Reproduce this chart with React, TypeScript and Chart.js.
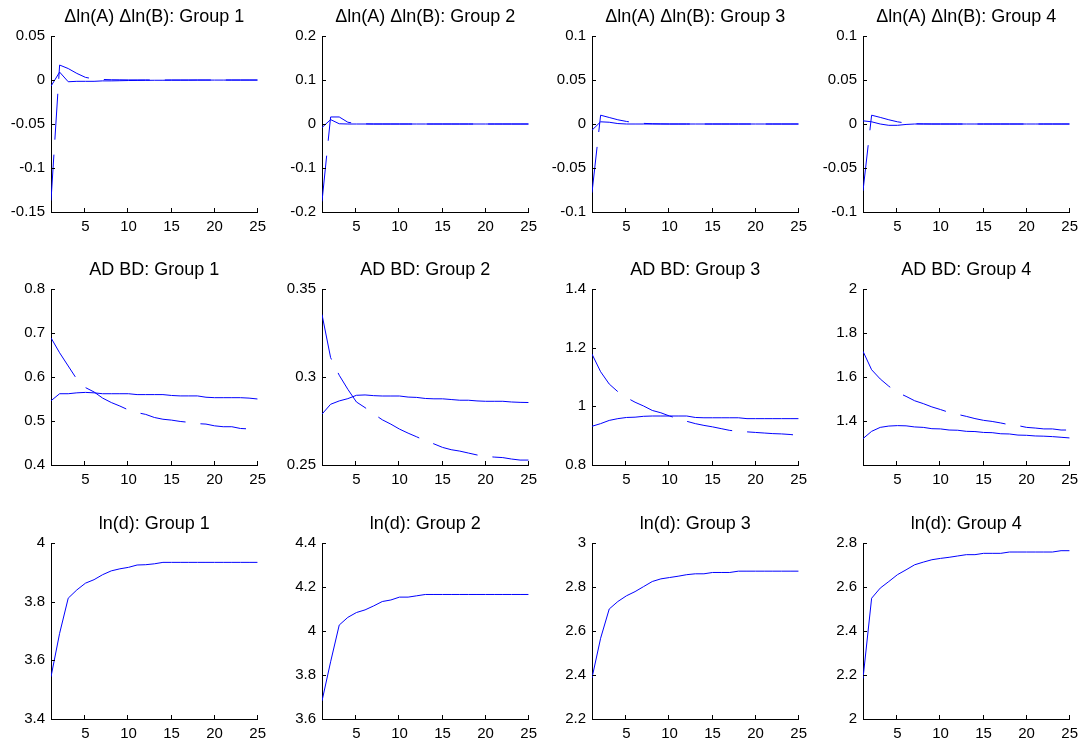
import React, { useEffect, useRef } from "react";
import { Chart, registerables } from "chart.js";

Chart.register(...registerables);

// ---------- data ----------
const periods = [1, 2, 3, 4, 5, 6, 7, 8, 9, 10, 11, 12, 13, 14, 15, 16, 17, 18, 19, 20, 21, 22, 23, 24, 25];
const xTickValues = [5, 10, 15, 20, 25];

const groups = ["Group 1", "Group 2", "Group 3", "Group 4"];
const rowTitles = ["Δln(A) Δln(B)", "AD BD", "ln(d)"];

// Row 1: Δln(A) Δln(B)
const dlnG1Solid = [-0.007, 0.009, -0.002, -0.0015, -0.0015, -0.0015, -0.001, -0.001, -0.0008, -0.0006, -0.0005, -0.0004, -0.0003, -0.0003, -0.0002, -0.0002, -0.0002, -0.0001, -0.0001, -0.0001, -0.0001, -0.0001, -0.0001, -0.0001, -0.0001];
const dlnG1Dashed = [-0.137, 0.017, 0.013, 0.0075, 0.003, 0.0012, 0.0006, 0.0003, 0.0002, 0.0001, 0.0001, 0.0001, 0, 0, 0, 0, 0, 0, 0, 0, 0, 0, 0, 0, 0];
const dlnG2Solid = [-0.008, 0.010, 0.0005, 0, 0, 0, 0, 0, 0, 0, 0, 0, 0, 0, 0, 0, 0, 0, 0, 0, 0, 0, 0, 0, 0];
const dlnG2Dashed = [-0.176, 0.016, 0.016, 0.004, 0.001, 0.0003, 0, 0, 0, 0, 0, 0, 0, 0, 0, 0, 0, 0, 0, 0, 0, 0, 0, 0, 0];
const dlnG3Solid = [-0.007, 0.0025, 0.002, 0.0005, 0, 0, 0, 0, 0, 0, 0, 0, 0, 0, 0, 0, 0, 0, 0, 0, 0, 0, 0, 0, 0];
const dlnG3Dashed = [-0.078, 0.010, 0.0074, 0.0048, 0.0029, 0.0015, 0.0007, 0.0003, 0.0001, 0, 0, 0, 0, 0, 0, 0, 0, 0, 0, 0, 0, 0, 0, 0, 0];
const dlnG4Solid = [0.0036, 0.0025, 0.0, -0.0015, -0.0015, -0.0005, 0, 0, 0, 0, 0, 0, 0, 0, 0, 0, 0, 0, 0, 0, 0, 0, 0, 0, 0];
const dlnG4Dashed = [-0.076, 0.010, 0.0075, 0.0048, 0.0025, 0.001, 0.0003, 0.0001, 0, 0, 0, 0, 0, 0, 0, 0, 0, 0, 0, 0, 0, 0, 0, 0, 0];

// Row 2: AD BD
const adbdG1Solid = [0.546, 0.562, 0.562, 0.564, 0.565, 0.564, 0.562, 0.562, 0.562, 0.562, 0.560, 0.560, 0.560, 0.560, 0.558, 0.557, 0.557, 0.557, 0.554, 0.553, 0.553, 0.553, 0.553, 0.552, 0.550];
const adbdG1Dashed = [0.689, 0.655, 0.625, 0.595, 0.576, 0.566, 0.552, 0.542, 0.534, 0.525, 0.519, 0.515, 0.508, 0.504, 0.502, 0.499, 0.497, 0.494, 0.493, 0.489, 0.487, 0.487, 0.483, 0.482, 0.480];
const adbdG2Solid = [0.2789, 0.2845, 0.2864, 0.2877, 0.2896, 0.2898, 0.2894, 0.2892, 0.2892, 0.2892, 0.2886, 0.2884, 0.2878, 0.2876, 0.2876, 0.2872, 0.2868, 0.2868, 0.2864, 0.2862, 0.2862, 0.2862, 0.2858, 0.2856, 0.2855];
const adbdG2Dashed = [0.3355, 0.311, 0.301, 0.293, 0.2858, 0.2826, 0.279, 0.2757, 0.2732, 0.2704, 0.2681, 0.266, 0.2638, 0.262, 0.26, 0.2587, 0.2579, 0.2568, 0.2557, 0.2549, 0.2545, 0.2542, 0.2534, 0.2528, 0.2528];
const adbdG3Solid = [0.932, 0.941, 0.952, 0.958, 0.962, 0.963, 0.966, 0.967, 0.967, 0.967, 0.967, 0.967, 0.962, 0.961, 0.961, 0.961, 0.961, 0.961, 0.958, 0.958, 0.958, 0.958, 0.958, 0.958, 0.958];
const adbdG3Dashed = [1.178, 1.118, 1.076, 1.05, 1.03, 1.014, 1.001, 0.986, 0.978, 0.967, 0.958, 0.949, 0.941, 0.935, 0.930, 0.924, 0.918, 0.915, 0.913, 0.911, 0.909, 0.907, 0.906, 0.904, 0.901];
const adbdG4Solid = [1.320, 1.353, 1.371, 1.377, 1.379, 1.378, 1.373, 1.371, 1.365, 1.364, 1.359, 1.358, 1.353, 1.352, 1.348, 1.347, 1.342, 1.341, 1.336, 1.335, 1.332, 1.331, 1.329, 1.326, 1.323];
const adbdG4Dashed = [1.717, 1.633, 1.591, 1.558, 1.530, 1.512, 1.492, 1.479, 1.464, 1.452, 1.439, 1.430, 1.421, 1.411, 1.403, 1.398, 1.391, 1.383, 1.379, 1.371, 1.368, 1.364, 1.364, 1.359, 1.359];

// Row 3: ln(d)
const lndG1 = [3.544, 3.692, 3.812, 3.840, 3.863, 3.875, 3.892, 3.905, 3.912, 3.917, 3.925, 3.926, 3.929, 3.934, 3.934, 3.934, 3.934, 3.934, 3.934, 3.934, 3.934, 3.934, 3.934, 3.934, 3.934];
const lndG2 = [3.682, 3.860, 4.027, 4.062, 4.084, 4.096, 4.114, 4.134, 4.141, 4.154, 4.154, 4.160, 4.166, 4.166, 4.166, 4.166, 4.166, 4.166, 4.166, 4.166, 4.166, 4.166, 4.166, 4.166, 4.166];
const lndG3 = [2.387, 2.567, 2.700, 2.734, 2.760, 2.779, 2.802, 2.825, 2.837, 2.843, 2.849, 2.856, 2.860, 2.860, 2.866, 2.866, 2.866, 2.872, 2.872, 2.872, 2.872, 2.872, 2.872, 2.872, 2.872];
const lndG4 = [2.184, 2.549, 2.595, 2.625, 2.656, 2.678, 2.701, 2.713, 2.724, 2.730, 2.735, 2.741, 2.747, 2.747, 2.753, 2.753, 2.753, 2.759, 2.759, 2.759, 2.759, 2.759, 2.759, 2.765, 2.765];

// y ranges and tick labels
const yRange = [
  [[-0.15, 0.05], [-0.2, 0.2], [-0.1, 0.1], [-0.1, 0.1]],
  [[0.4, 0.8], [0.25, 0.35], [0.8, 1.4], [1.2, 2]],
  [[3.4, 4], [3.6, 4.4], [2.2, 3], [2, 2.8]],
];
const yTicks = [
  [[-0.15, -0.1, -0.05, 0, 0.05], [-0.2, -0.1, 0, 0.1, 0.2], [-0.1, -0.05, 0, 0.05, 0.1], [-0.1, -0.05, 0, 0.05, 0.1]],
  [[0.4, 0.5, 0.6, 0.7, 0.8], [0.25, 0.3, 0.35], [0.8, 1, 1.2, 1.4], [1.4, 1.6, 1.8, 2]],
  [[3.4, 3.6, 3.8, 4], [3.6, 3.8, 4, 4.2, 4.4], [2.2, 2.4, 2.6, 2.8, 3], [2, 2.2, 2.4, 2.6, 2.8]],
];
const solidSeries = [
  [dlnG1Solid, dlnG2Solid, dlnG3Solid, dlnG4Solid],
  [adbdG1Solid, adbdG2Solid, adbdG3Solid, adbdG4Solid],
  [lndG1, lndG2, lndG3, lndG4],
];
const dashedSeries = [
  [dlnG1Dashed, dlnG2Dashed, dlnG3Dashed, dlnG4Dashed],
  [adbdG1Dashed, adbdG2Dashed, adbdG3Dashed, adbdG4Dashed],
  [null, null, null, null],
];

// ---------- layout ----------
const PLOT_LEFTS = [51, 322, 592, 863];
const PLOT_TOPS = [36, 289, 543];
const Y_AXIS_W = 50;
const TOP_SPACE = 34;
const X_AXIS_H = 28;
const PLOT_W = 207;
const PLOT_H = 176;
const RIGHT_PAD = 14;
const CANVAS_W = Y_AXIS_W + PLOT_W + RIGHT_PAD;
const CANVAS_H = TOP_SPACE + PLOT_H + X_AXIS_H;

const FONT = "'Liberation Sans', Arial, Helvetica, sans-serif";
const BLUE = "#0000ff";

const inwardTicks = {
  id: "inwardTicks",
  afterDatasetsDraw(chart: any) {
    const { ctx, chartArea, scales } = chart;
    ctx.save();
    ctx.strokeStyle = "#000";
    ctx.lineWidth = 1;
    ctx.beginPath();
    scales.x.ticks.forEach((t: any) => {
      const px = Math.round(scales.x.getPixelForValue(t.value)) - 0.5;
      ctx.moveTo(px, chartArea.bottom);
      ctx.lineTo(px, chartArea.bottom - 4);
    });
    scales.y.ticks.forEach((t: any) => {
      const py = Math.round(scales.y.getPixelForValue(t.value)) + 0.5;
      ctx.moveTo(chartArea.left, py);
      ctx.lineTo(chartArea.left + 4, py);
    });
    ctx.stroke();
    ctx.restore();
  },
};

function Panel({ row, col }: { row: number; col: number }) {
  const ref = useRef<HTMLCanvasElement>(null);
  useEffect(() => {
    const toPts = (arr: number[]) => periods.map((p, i) => ({ x: p, y: arr[i] }));
    const datasets: any[] = [
      {
        data: toPts(solidSeries[row][col]),
        borderColor: BLUE,
        borderWidth: 1,
        pointRadius: 0,
        tension: 0,
        fill: false,
      },
    ];
    const dashed = dashedSeries[row][col];
    if (dashed) {
      datasets.push({
        data: toPts(dashed),
        borderColor: BLUE,
        borderWidth: 1,
        borderDash: [46, 15],
        pointRadius: 0,
        tension: 0,
        fill: false,
      });
    }
    const [yMin, yMax] = yRange[row][col];
    const ticksY = yTicks[row][col];
    const chart = new Chart(ref.current as HTMLCanvasElement, {
      type: "line",
      data: { datasets },
      plugins: [inwardTicks],
      options: {
        animation: false,
        responsive: false,
        devicePixelRatio: 1,
        events: [],
        layout: { padding: { top: 4, right: RIGHT_PAD, left: 0, bottom: 0 } },
        plugins: {
          legend: { display: false },
          tooltip: { enabled: false },
          title: {
            display: true,
            text: `${rowTitles[row]}: ${groups[col]}`,
            fullSize: false,
            color: "#000",
            font: { family: FONT, size: 18, weight: "normal", lineHeight: 1 },
            padding: { top: 2, bottom: 10 },
          },
        },
        scales: {
          x: {
            type: "linear",
            min: 1,
            max: 25,
            afterBuildTicks: (s: any) => {
              s.ticks = xTickValues.map((v) => ({ value: v }));
            },
            afterFit: (s: any) => {
              s.height = X_AXIS_H;
            },
            grid: { display: false, drawTicks: false },
            border: { display: true, color: "#000", width: 1 },
            ticks: {
              color: "#000",
              font: { family: FONT, size: 15 },
              padding: 6,
              maxRotation: 0,
              autoSkip: false,
              callback: (v: any) => String(v),
            },
          },
          y: {
            type: "linear",
            min: yMin,
            max: yMax,
            afterBuildTicks: (s: any) => {
              s.ticks = ticksY.map((v) => ({ value: v }));
            },
            afterFit: (s: any) => {
              s.width = Y_AXIS_W;
            },
            grid: { display: false, drawTicks: false },
            border: { display: true, color: "#000", width: 1 },
            ticks: {
              color: "#000",
              font: { family: FONT, size: 15 },
              padding: 6,
              autoSkip: false,
              callback: (v: any) => String(v),
            },
          },
        },
      } as any,
    });
    return () => chart.destroy();
  }, [row, col]);
  return (
    <canvas
      ref={ref}
      width={CANVAS_W}
      height={CANVAS_H}
      style={{
        position: "absolute",
        left: PLOT_LEFTS[col] - Y_AXIS_W,
        top: PLOT_TOPS[row] - TOP_SPACE,
        width: CANVAS_W,
        height: CANVAS_H,
      }}
    />
  );
}

export default function App() {
  const cells: JSX.Element[] = [];
  for (let r = 0; r < 3; r++) {
    for (let c = 0; c < 4; c++) {
      cells.push(<Panel key={`${r}-${c}`} row={r} col={c} />);
    }
  }
  return (
    <div
      style={{
        position: "fixed",
        left: 0,
        top: 0,
        width: 1086,
        height: 745,
        background: "#fff",
        overflow: "hidden",
      }}
    >
      {cells}
    </div>
  );
}
